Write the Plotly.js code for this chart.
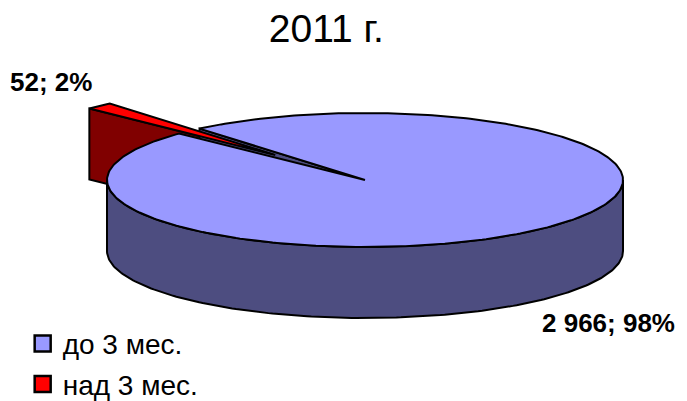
<!DOCTYPE html>
<html>
<head>
<meta charset="utf-8">
<script src="https://cdn.plot.ly/plotly-3.0.1.min.js"></script>
<style>html,body{margin:0;padding:0;background:#fff;}#chart{width:687px;height:401px;}</style>
</head>
<body>
<div id="chart"></div>
<script>
// ---- data ----
const chartTitle = '2011 г.';
const categories = ['до 3 мес.', 'над 3 мес.'];
const values = [2966, 52];
const topColors = ['#9999FF', '#FF0000'];
const sideColors = ['#4D4D80', '#800000'];

// ---- geometry (3D pie projection, in pixel-like axis units) ----
const W = 687, H = 401;
const cx = 365, cy = 180, rx = 258, ry = 67, depth = 71;
const redMidAngle = 133;   // direction of the small slice (degrees)
const explode = 0.51;      // explosion of small slice (fraction of radius)

const total = values.reduce((a, b) => a + b, 0);
const spans = values.map(v => 360 * v / total);
const redStart = redMidAngle - spans[1] / 2;
const redEnd = redMidAngle + spans[1] / 2;
const blueStart = redEnd, blueEnd = redStart + 360;

function P(deg, r, ox, oy, dz) {
  const t = deg * Math.PI / 180;
  return [cx + ox + rx * r * Math.cos(t), cy + oy - ry * r * Math.sin(t) + dz];
}
function arc(a0, a1, ox, oy, dz) {
  const pts = [];
  const n = Math.max(2, Math.ceil(Math.abs(a1 - a0) / 1));
  for (let i = 0; i <= n; i++) pts.push(P(a0 + (a1 - a0) * i / n, 1, ox, oy, dz));
  return pts;
}
function poly(pts, fill, name) {
  return {
    type: 'scatter', mode: 'lines', fill: 'toself', fillcolor: fill,
    x: pts.map(p => p[0]), y: pts.map(p => p[1]),
    line: {color: '#000', width: 2, shape: 'linear'},
    hoverinfo: 'skip', showlegend: false, name: name
  };
}

const mr = redMidAngle * Math.PI / 180;
const ox = explode * rx * Math.cos(mr), oy = -explode * ry * Math.sin(mr);

// red radial face (visible edge)
const redFace = [P(0, 0, ox, oy, 0), P(redEnd, 1, ox, oy, 0), P(redEnd, 1, ox, oy, depth), P(0, 0, ox, oy, depth), P(0, 0, ox, oy, 0)];
// blue radial face seen through the gap
const blueFace = [P(0, 0, 0, 0, 0), P(blueEnd, 1, 0, 0, 0), P(blueEnd, 1, 0, 0, depth), P(0, 0, 0, 0, depth), P(0, 0, 0, 0, 0)];
// blue side wall (front half)
const blueSide = arc(180, 360, 0, 0, 0).concat(arc(360, 180, 0, 0, depth));
blueSide.push(blueSide[0]);
// blue top
const blueTop = [P(0, 0, 0, 0, 0)].concat(arc(blueStart, blueEnd, 0, 0, 0), [P(0, 0, 0, 0, 0)]);
// red top
const redTop = [P(0, 0, ox, oy, 0)].concat(arc(redStart, redEnd, ox, oy, 0), [P(0, 0, ox, oy, 0)]);

const traces = [
  poly(redFace, sideColors[1], categories[1]),
  poly(blueFace, sideColors[0], categories[0]),
  poly(blueSide, sideColors[0], categories[0]),
  poly(blueTop, topColors[0], categories[0]),
  poly(redTop, topColors[1], categories[1])
];
categories.forEach((c, i) => traces.push({
  type: 'scatter', mode: 'markers', x: [null], y: [null], name: c, legendgroup: 'g' + i,
  marker: {symbol: 'square', size: 20, color: topColors[i], line: {color: '#000', width: 2.5}},
  showlegend: true, hoverinfo: 'skip'
}));

function fmt(v) { return String(v).replace(/\B(?=(\d{3})+(?!\d))/g, ' '); }
const labels = values.map(v => fmt(v) + '; ' + Math.round(100 * v / total) + '%');

const layout = {
  width: W, height: H,
  margin: {l: 0, r: 0, t: 0, b: 0, autoexpand: false},
  paper_bgcolor: '#fff', plot_bgcolor: '#fff',
  font: {family: 'Liberation Sans, Arial, sans-serif', color: '#000'},
  title: {text: chartTitle, font: {size: 39, color: '#000'}, x: 0.475, xanchor: 'center', y: 0.93, yanchor: 'middle'},
  xaxis: {range: [0, W], visible: false, fixedrange: true},
  yaxis: {range: [H, 0], visible: false, fixedrange: true},
  showlegend: true,
  legend: {x: 0.033, xanchor: 'left', y: 0.205, yanchor: 'top', font: {size: 28, color: '#000'},
           bgcolor: 'rgba(0,0,0,0)', itemclick: false, tracegroupgap: 1},
  annotations: [
    {x: 677, y: 323, xref: 'x', yref: 'y', text: '<b>' + labels[0] + '</b>', showarrow: false,
     xanchor: 'right', yanchor: 'middle', font: {size: 26, color: '#000'}},
    {x: 8, y: 82, xref: 'x', yref: 'y', text: '<b>' + labels[1] + '</b>', showarrow: false,
     xanchor: 'left', yanchor: 'middle', font: {size: 26, color: '#000'}}
  ]
};

Plotly.newPlot('chart', traces, layout, {staticPlot: true, displayModeBar: false});
</script>
</body>
</html>
